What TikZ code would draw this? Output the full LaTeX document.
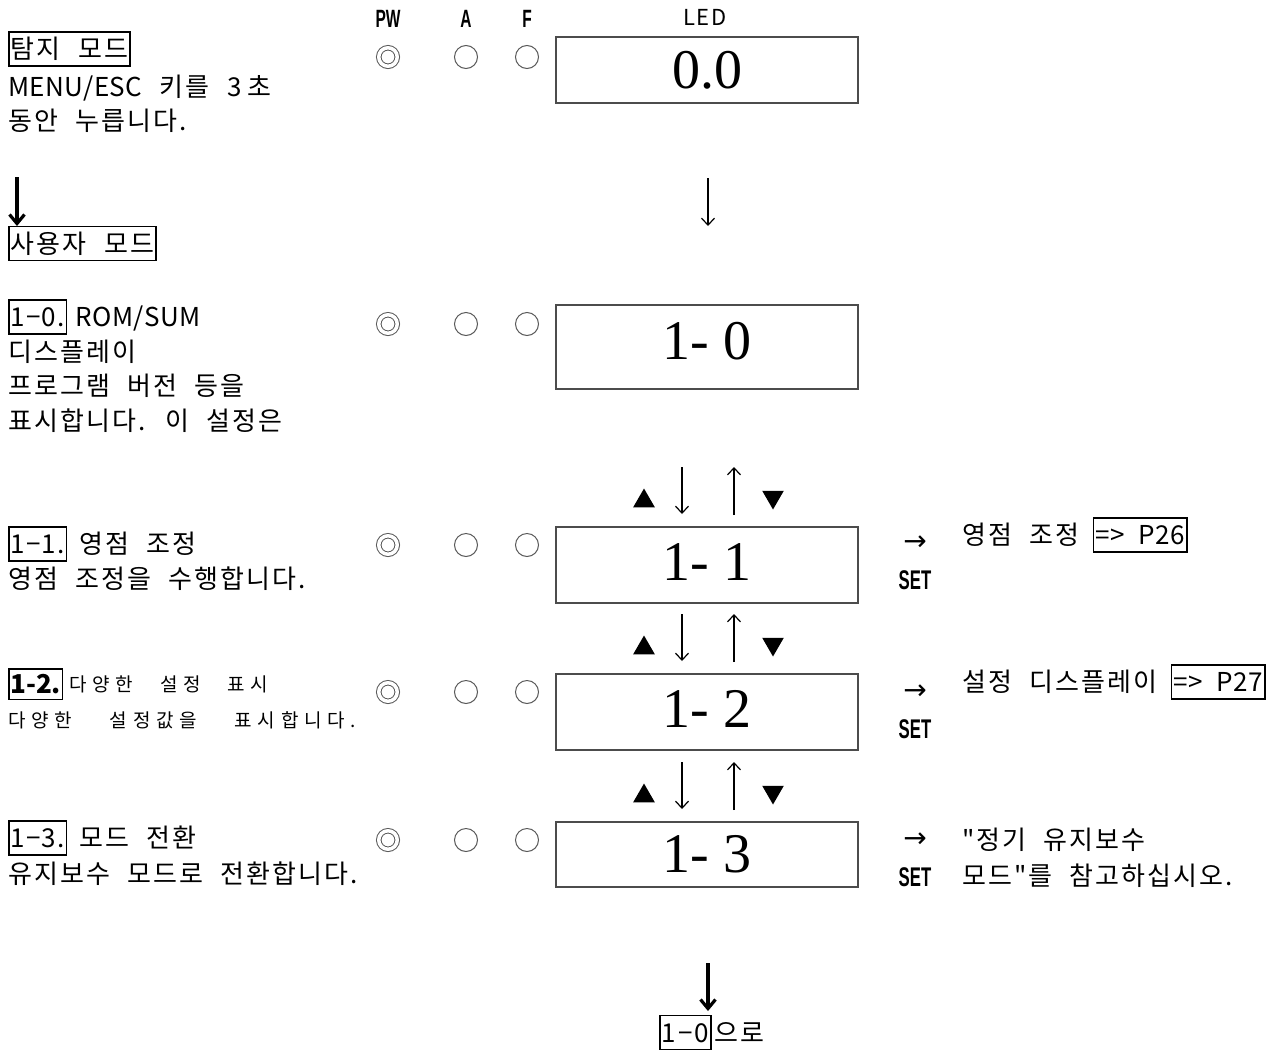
\documentclass[tikz,border=0pt]{standalone}
\usepackage{fontspec}
\setmainfont[Ligatures=TeXOff,WordSpace=2.2,LetterSpace=8]{Noto Sans CJK KR}
\newfontfamily\ledfont{Liberation Serif}
\newfontfamily\narrowfont[FakeStretch=0.62]{Liberation Sans Bold}
\newfontfamily\symfont{DejaVu Sans}
\newfontfamily\spacedfont[Ligatures=TeXOff,WordSpace=2.7,LetterSpace=30]{Noto Sans CJK KR}
\newcommand\lat[1]{{\addfontfeature{LetterSpace=2}#1}}
\usetikzlibrary{positioning,shapes.geometric,arrows.meta}

\tikzset{
  txt/.style={anchor=west, inner sep=0pt, font=\fontsize{26}{26}\selectfont, text height=22pt, text depth=2.6pt},
  small/.style={anchor=west, inner sep=0pt, font=\spacedfont\fontsize{19}{19}\selectfont, text height=16pt, text depth=1.9pt},
  tag/.style={txt, draw, line width=1.6pt, inner xsep=2pt, inner ysep=4.6pt},
  numtag/.style={tag, font=\fontsize{26}{26}\selectfont\addfontfeature{LetterSpace=4}},
  head/.style={inner sep=0pt, font=\narrowfont\fontsize{25}{25}\selectfont},
  lamp/.style={circle, draw=black!65, line width=1pt, minimum size=23pt, inner sep=0pt},
  disp/.style={draw=black!70, line width=1.5pt, minimum width=302pt, inner sep=0pt, font=\ledfont\fontsize{56}{56}\selectfont},
  tri/.style={regular polygon, regular polygon sides=3, fill=black, minimum size=25pt, inner sep=0pt},
  slim/.style={line width=1.2pt, -{Straight Barb[length=7pt,width=13pt]}},
  heavy/.style={line width=3.2pt, -{Straight Barb[length=9pt,width=15pt]}}
}

\begin{document}
\begin{tikzpicture}[x=1pt,y=-1pt]
\useasboundingbox (0,0) rectangle (1280,1050);

% lamp header
\node[head] (hpw) at (388,19) {PW};
\node[head] (ha) at (466,19) {A};
\node[head] (hf) at (527,19) {F};
\node[inner sep=0pt, font=\fontsize{22}{22}\selectfont] (hled) at (705,17) {LED};

% lamps
\foreach \y [count=\i] in {57,324,545,692,840}{
  \node[lamp, double, double distance=3.5pt, minimum size=18.5pt] (pw\i) at (388,\y) {};
  \node[lamp] (a\i) at (466,\y) {};
  \node[lamp] (f\i) at (527,\y) {};
}

% LED displays
\node[disp, minimum height=66pt] (d0) at (707,70) {0.0};
\node[disp, minimum height=84pt, text depth=12pt] (d1) at (707,347) {1- 0};
\node[disp, minimum height=76pt, text depth=6pt] (d2) at (707,565) {1- 1};
\node[disp, minimum height=76pt, text depth=6pt] (d3) at (707,712) {1- 2};
\node[disp, minimum height=65pt] (d4) at (707,854.5) {1- 3};

% arrows between displays
\coordinate (s0) at (708,178);
\coordinate (e0) at (708,226);
\draw[slim] (s0) -- (e0);
\foreach \y [count=\i] in {467,614,762}{
  \coordinate (dt\i) at (682,\y);
  \coordinate (db\i) at (682,\y+47);
  \coordinate (ut\i) at (734,\y);
  \coordinate (ub\i) at (734,\y+48);
  \draw[slim] (dt\i) -- (db\i);
  \draw[slim] (ub\i) -- (ut\i);
  \node[tri] (up\i) at (644,\y+34) {};
  \node[tri, shape border rotate=180] (dn\i) at (773,\y+30) {};
}

% left column
\node[tag] (mode0) at (8,49) {탐지 모드};
\node[txt] (l0a) at (8,87) {\lat{MENU/ESC} 키를 3\hspace{6pt}초};
\node[txt] (l0b) at (8,121) {동안 누릅니다.};
\coordinate (ls) at (17,177);
\coordinate (le) at (17,226);
\draw[heavy] (ls) -- (le);
\node[tag] (mode1) at (8,243.5) {사용자 모드};

\node[numtag] (n10) at (8,317) {1−0.};
\node[txt, right=8pt of n10] (t10) {\lat{ROM/SUM}};
\node[txt] (l10a) at (8,352) {디스플레이};
\node[txt] (l10b) at (8,386) {프로그램 버전 등을};
\node[txt] (l10c) at (8,421) {표시합니다. 이 설정은};

\node[numtag] (n11) at (8,544) {1−1.};
\node[txt, right=12pt of n11] (t11) {영점 조정};
\node[txt] (l11) at (8,579) {영점 조정을 수행합니다.};

\node[tag, font=\bfseries\fontsize{26}{26}\selectfont\addfontfeature{LetterSpace=0}, inner xsep=1.5pt, inner ysep=3pt] (n12) at (8,684) {1-2.};
\node[small, right=6pt of n12] (t12) {다양한 설정 표시};
\node[small] (l12) at (8,720) {다양한\hspace{11pt} 설정값을\hspace{11pt} 표시합니다.};

\node[numtag] (n13) at (8,838) {1−3.};
\node[txt, right=12pt of n13] (t13) {모드 전환};
\node[txt] (l13) at (8,874) {유지보수 모드로 전환합니다.};

% right column
\foreach \y [count=\i] in {543,692,840}{
  \node[inner sep=0pt, font=\symfont\fontsize{28}{28}\selectfont] (go\i) at (915,\y) {→};
  \node[head, font=\narrowfont\fontsize{27}{27}\selectfont] (set\i) at (915,\y+37) {SET};
}
\node[txt] (r1) at (962,535) {영점 조정};
\node[numtag, right=13pt of r1] (p26) {\lat{=> P26}};
\node[txt] (r2) at (962,682) {설정 디스플레이};
\node[numtag, right=13pt of r2] (p27) {\lat{=> P27}};
\node[txt] (r3a) at (962,840) {"정기 유지보수};
\node[txt] (r3b) at (962,876) {모드"를 참고하십시오.};

% back to 1-0
\coordinate (bs) at (708,963);
\coordinate (be) at (708,1011);
\draw[heavy] (bs) -- (be);
\node[tag] (back) at (659,1032.5) {1−0};
\node[txt, right=2pt of back] (backtxt) {으로};
\end{tikzpicture}
\end{document}
